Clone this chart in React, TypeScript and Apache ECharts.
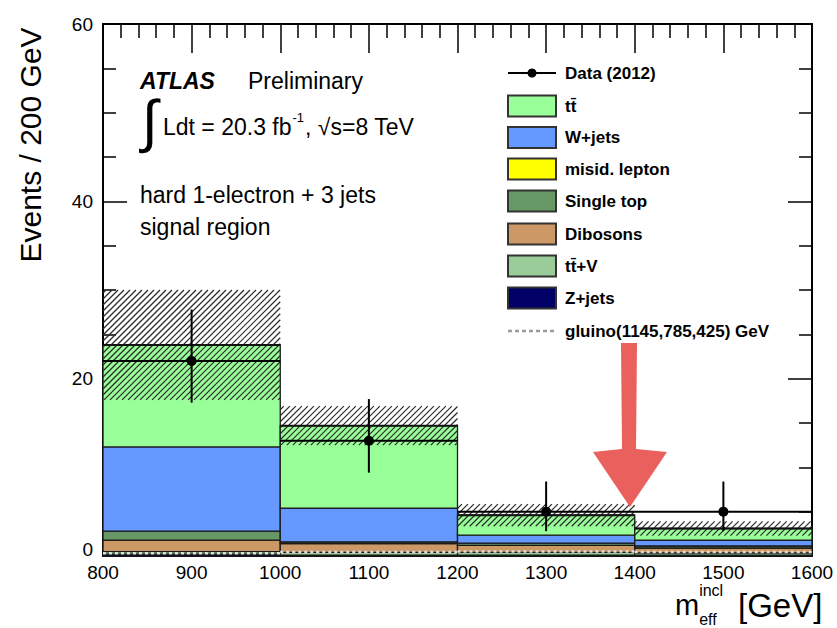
import React, { useEffect, useRef } from "react";
import * as echarts from "echarts";

// ---- data ----
const binLow = [800, 1000, 1200, 1400];
const binHigh = [1000, 1200, 1400, 1600];
const zJets = [0.2, 0.1, 0.1, 0.1];
const ttV = [0.3, 0.3, 0.3, 0.25];
const dibosons = [1.3, 1.0, 0.8, 0.55];
const singleTop = [1.0, 0.2, 0.25, 0.25];
const misidLepton = [0.0, 0.0, 0.0, 0.0];
const wJets = [9.5, 3.8, 0.9, 0.65];
const ttbar = [11.5, 9.3, 2.25, 1.3];
const bkgUncertainty = [6.2, 2.2, 1.25, 0.8];
const dataCounts = [22, 13, 5, 5];
const dataErrLow = [17.3, 9.4, 2.8, 2.8];
const dataErrHigh = [27.8, 17.7, 8.4, 8.4];
const gluino = [0.3, 0.45, 0.5, 0.45];
const xTickLabels = ["800", "900", "1000", "1100", "1200", "1300", "1400", "1500", "1600"];
const yTickLabels = ["0", "20", "40", "60"];

const FONT = '"Liberation Sans", Arial, Helvetica, sans-serif';

const processes = [
  { name: "Z+jets", values: zJets, color: "#000066" },
  { name: "tt\u0304+V", values: ttV, color: "#99cc99" },
  { name: "Dibosons", values: dibosons, color: "#cc9966" },
  { name: "Single top", values: singleTop, color: "#669966" },
  { name: "misid. lepton", values: misidLepton, color: "#ffff00" },
  { name: "W+jets", values: wJets, color: "#6699ff" },
  { name: "tt\u0304", values: ttbar, color: "#99ff99" },
];

function measure(s: string, font: string): number {
  const c = document.createElement("canvas").getContext("2d");
  if (!c) return s.length * 10;
  c.font = font;
  return c.measureText(s).width;
}

function txt(text: string, x: number, y: number, size: number, extra: any = {}) {
  return {
    type: "text",
    x,
    y,
    z: 100,
    ...extra.el,
    style: {
      text,
      fill: "#000",
      fontFamily: FONT,
      fontSize: size,
      fontWeight: extra.weight || "normal",
      fontStyle: extra.style || "normal",
      align: extra.align || "left",
      textAlign: extra.align || "left",
      verticalAlign: "middle",
      textVerticalAlign: "middle",
    },
  };
}

function buildOption() {
  const base = binLow.map(() => 0);
  const stackSeries = processes.map((p) => {
    const data = binLow.map((lo, i) => {
      const b = base[i];
      base[i] = b + p.values[i];
      return [lo, binHigh[i], b, base[i]];
    });
    return {
      type: "custom",
      name: p.name,
      xAxisIndex: 0,
      yAxisIndex: 0,
      encode: { x: [0, 1], y: [2, 3] },
      data,
      z: 2,
      renderItem: (params: any, api: any) => {
        const tl = api.coord([api.value(0), api.value(3)]);
        const br = api.coord([api.value(1), api.value(2)]);
        return {
          type: "rect",
          shape: { x: tl[0], y: tl[1], width: br[0] - tl[0], height: br[1] - tl[1] },
          style: { fill: p.color, stroke: "#1a1a1a", lineWidth: 1.3 },
        };
      },
    };
  });
  const totals = base.slice();

  const hatchSeries = {
    type: "custom",
    name: "uncertainty",
    xAxisIndex: 0,
    yAxisIndex: 0,
    encode: { x: [0, 1], y: [2, 3] },
    z: 3,
    data: binLow.map((lo, i) => [lo, binHigh[i], totals[i] - bkgUncertainty[i], totals[i] + bkgUncertainty[i]]),
    renderItem: (params: any, api: any) => {
      const tl = api.coord([api.value(0), api.value(3)]);
      const br = api.coord([api.value(1), api.value(2)]);
      const x0 = tl[0], y0 = tl[1], x1 = br[0], y1 = br[1];
      const step = 6;
      const children: any[] = [];
      const cStart = Math.ceil((x0 + y0) / step) * step;
      for (let c = cStart; c <= x1 + y1; c += step) {
        const xs = Math.max(x0, c - y1);
        const xe = Math.min(x1, c - y0);
        if (xe > xs) {
          children.push({
            type: "line",
            shape: { x1: xs, y1: c - xs, x2: xe, y2: c - xe },
            style: { stroke: "#2a2a2a", lineWidth: 1.2 },
          });
        }
      }
      return { type: "group", children };
    },
  };

  const totalLineSeries = {
    type: "custom",
    name: "total",
    xAxisIndex: 0,
    yAxisIndex: 0,
    encode: { x: [0, 1], y: 2 },
    z: 4,
    data: binLow.map((lo, i) => [lo, binHigh[i], totals[i]]),
    renderItem: (params: any, api: any) => {
      const a = api.coord([api.value(0), api.value(2)]);
      const b = api.coord([api.value(1), api.value(2)]);
      return {
        type: "line",
        shape: { x1: a[0], y1: a[1], x2: b[0], y2: b[1] },
        style: { stroke: "#111", lineWidth: 2 },
      };
    },
  };

  const gluinoSeries = {
    type: "custom",
    name: "gluino",
    xAxisIndex: 0,
    yAxisIndex: 0,
    encode: { x: [0, 1], y: 2 },
    z: 5,
    data: binLow.map((lo, i) => [lo, binHigh[i], gluino[i]]),
    renderItem: (params: any, api: any) => {
      const a = api.coord([api.value(0), api.value(2)]);
      const b = api.coord([api.value(1), api.value(2)]);
      return {
        type: "line",
        shape: { x1: a[0], y1: a[1], x2: b[0], y2: b[1] },
        style: { stroke: "#dddddd", lineWidth: 2.5, lineDash: [3, 3] },
      };
    },
  };

  const dataSeries = {
    type: "custom",
    name: "Data (2012)",
    xAxisIndex: 0,
    yAxisIndex: 0,
    encode: { x: [0, 1], y: [3, 4, 5] },
    z: 10,
    data: binLow.map((lo, i) => [lo, binHigh[i], (lo + binHigh[i]) / 2, dataCounts[i], dataErrLow[i], dataErrHigh[i]]),
    renderItem: (params: any, api: any) => {
      const l = api.coord([api.value(0), api.value(3)]);
      const r = api.coord([api.value(1), api.value(3)]);
      const c = api.coord([api.value(2), api.value(3)]);
      const lo = api.coord([api.value(2), api.value(4)]);
      const hi = api.coord([api.value(2), api.value(5)]);
      return {
        type: "group",
        children: [
          { type: "line", shape: { x1: l[0], y1: l[1], x2: r[0], y2: r[1] }, style: { stroke: "#000", lineWidth: 2 } },
          { type: "line", shape: { x1: lo[0], y1: lo[1], x2: hi[0], y2: hi[1] }, style: { stroke: "#000", lineWidth: 2 } },
          { type: "circle", shape: { cx: c[0], cy: c[1], r: 5 }, style: { fill: "#000" } },
        ],
      };
    },
  };

  // ---- texts ----
  const graphics: any[] = [];
  const f23 = `23px ${FONT}`;
  graphics.push(txt("ATLAS", 140, 81, 23, { weight: "bold", style: "italic" }));
  graphics.push(txt("Preliminary", 248, 81, 23));
  graphics.push(txt("\u222B", 142, 120, 58));
  const l1 = "Ldt = 20.3 fb";
  graphics.push(txt(l1, 163, 127, 23));
  const w1 = measure(l1, f23);
  graphics.push(txt("-1", 163 + w1 + 1, 117, 13));
  const w2 = measure("-1", `13px ${FONT}`);
  const l2 = ", \u221As=8 TeV";
  graphics.push(txt(l2, 163 + w1 + w2 + 2, 127, 23));
  graphics.push(txt("hard 1-electron + 3 jets", 140, 195, 23));
  graphics.push(txt("signal region", 140, 227, 23));

  // axis titles
  graphics.push(txt("Events / 200 GeV", 30, 145, 30, { align: "center", el: { rotation: Math.PI / 2 } }));
  const mW = measure("m", `29px ${FONT}`);
  graphics.push(txt("m", 675, 605, 29));
  graphics.push(txt("incl", 675 + mW, 590, 16));
  graphics.push(txt("eff", 675 + mW, 619, 16));
  graphics.push(txt("[GeV]", 738, 605, 33));

  // legend
  const lx = 508;
  const tx = 565;
  const lf = 17;
  graphics.push({ type: "line", z: 100, shape: { x1: lx, y1: 73, x2: lx + 48, y2: 73 }, style: { stroke: "#000", lineWidth: 2 } });
  graphics.push({ type: "circle", z: 100, shape: { cx: lx + 24, cy: 73, r: 4.5 }, style: { fill: "#000" } });
  graphics.push(txt("Data (2012)", tx, 73, lf, { weight: "bold" }));
  const legendOrder = ["tt\u0304", "W+jets", "misid. lepton", "Single top", "Dibosons", "tt\u0304+V", "Z+jets"];
  const rows = [106, 137.5, 169, 201, 234, 266, 298];
  legendOrder.forEach((name, k) => {
    const p = processes.find((q) => q.name === name)!;
    graphics.push({
      type: "rect",
      z: 100,
      shape: { x: lx, y: rows[k] - 10.5, width: 48, height: 21 },
      style: { fill: p.color, stroke: "#333", lineWidth: 2 },
    });
    graphics.push(txt(name, tx, rows[k], lf, { weight: "bold" }));
  });
  graphics.push({ type: "line", z: 100, shape: { x1: lx, y1: 331, x2: lx + 46, y2: 331 }, style: { stroke: "#999", lineWidth: 2.5, lineDash: [4, 3] } });
  graphics.push(txt("gluino(1145,785,425) GeV", tx, 331, lf, { weight: "bold" }));

  // red arrow annotation
  graphics.push({
    type: "polygon",
    z: 120,
    shape: {
      points: [
        [621, 343], [637, 343], [636, 449], [667, 452], [630, 507], [593, 452], [622, 449],
      ],
    },
    style: { fill: "rgba(232,82,78,0.92)" },
  });

  const axisCommon = {
    type: "value",
    axisLine: { show: true, onZero: false, lineStyle: { color: "#000", width: 2 } },
    splitLine: { show: false },
    minorSplitLine: { show: false },
  };

  return {
    animation: false,
    backgroundColor: "#fff",
    grid: { left: 103, right: 25, top: 24, bottom: 72, containLabel: false },
    xAxis: [
      {
        ...axisCommon,
        position: "bottom",
        min: 800,
        max: 1600,
        interval: 100,
        axisTick: { show: true, inside: true, length: 29, lineStyle: { color: "#000", width: 1.5 } },
        minorTick: { show: true, splitNumber: 5, length: 14, lineStyle: { color: "#000", width: 1.5 } },
        axisLabel: {
          show: true,
          margin: 7,
          color: "#000",
          fontFamily: FONT,
          fontSize: 19,
          formatter: (v: number) => xTickLabels[Math.round((v - 800) / 100)] ?? String(v),
        },
      },
      {
        ...axisCommon,
        position: "top",
        min: 800,
        max: 1600,
        interval: 100,
        axisTick: { show: true, inside: true, length: 29, lineStyle: { color: "#000", width: 1.5 } },
        minorTick: { show: true, splitNumber: 5, length: 14, lineStyle: { color: "#000", width: 1.5 } },
        axisLabel: { show: false },
      },
    ],
    yAxis: [
      {
        ...axisCommon,
        position: "left",
        min: 0,
        max: 60,
        interval: 20,
        axisTick: { show: true, inside: true, length: 24, lineStyle: { color: "#000", width: 1.5 } },
        minorTick: { show: true, splitNumber: 4, length: 13, lineStyle: { color: "#000", width: 1.5 } },
        axisLabel: {
          show: true,
          margin: 10,
          color: "#000",
          fontFamily: FONT,
          fontSize: 19,
          formatter: (v: number) => {
            const s = yTickLabels[Math.round(v / 20)] ?? String(v);
            return v === 0 ? `{zero|${s}}` : s;
          },
          rich: {
            zero: { fontFamily: FONT, fontSize: 19, color: "#000", padding: [0, 0, 14, 0] },
          },
        },
      },
      {
        ...axisCommon,
        position: "right",
        min: 0,
        max: 60,
        interval: 20,
        axisTick: { show: true, inside: true, length: 24, lineStyle: { color: "#000", width: 1.5 } },
        minorTick: { show: true, splitNumber: 4, length: 13, lineStyle: { color: "#000", width: 1.5 } },
        axisLabel: { show: false },
      },
    ],
    series: [...stackSeries, hatchSeries, totalLineSeries, gluinoSeries, dataSeries],
    graphic: { elements: graphics },
  };
}

export default function App() {
  const ref = useRef<HTMLDivElement>(null);
  useEffect(() => {
    if (!ref.current) return;
    const chart = echarts.init(ref.current, null, { renderer: "svg" });
    chart.setOption(buildOption() as any);
    return () => chart.dispose();
  }, []);
  return (
    <div
      ref={ref}
      style={{ position: "absolute", left: 0, top: 0, width: 837, height: 628, background: "#fff" }}
    />
  );
}
